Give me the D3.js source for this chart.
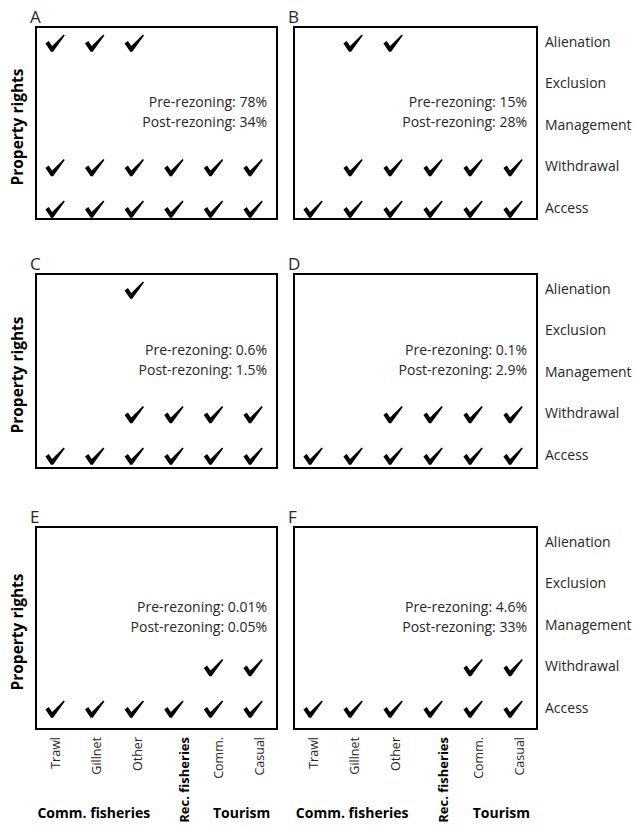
<!DOCTYPE html>
<html>
<head>
<meta charset="utf-8">
<script src="https://cdn.jsdelivr.net/npm/d3@7"></script>
<style>
  html, body { margin: 0; padding: 0; background: #fff; }
  svg { display: block; font-family: "Open Sans", Lato, sans-serif; }
</style>
</head>
<body>
<svg id="chart" width="636" height="826"></svg>
<script>
// Resource users (columns) and the bundle of property rights (rows)
const users = ["Trawl", "Gillnet", "Other", "Rec. fisheries", "Comm.", "Casual"];
const userGroups = ["Comm. fisheries", "Comm. fisheries", "Comm. fisheries", "Rec. fisheries", "Tourism", "Tourism"];
const rights = ["Alienation", "Exclusion", "Management", "Withdrawal", "Access"];

const panelLetters = ["A", "B", "C", "D", "E", "F"];
const preRezoning = ["78%", "15%", "0.6%", "0.1%", "0.01%", "4.6%"];
const postRezoning = ["34%", "28%", "1.5%", "2.9%", "0.05%", "33%"];

// 1 = right held by that user; rows follow the order of `rights`
const rightsA = [
  [1, 1, 1, 0, 0, 0],
  [0, 0, 0, 0, 0, 0],
  [0, 0, 0, 0, 0, 0],
  [1, 1, 1, 1, 1, 1],
  [1, 1, 1, 1, 1, 1]
];
const rightsB = [
  [0, 1, 1, 0, 0, 0],
  [0, 0, 0, 0, 0, 0],
  [0, 0, 0, 0, 0, 0],
  [0, 1, 1, 1, 1, 1],
  [1, 1, 1, 1, 1, 1]
];
const rightsC = [
  [0, 0, 1, 0, 0, 0],
  [0, 0, 0, 0, 0, 0],
  [0, 0, 0, 0, 0, 0],
  [0, 0, 1, 1, 1, 1],
  [1, 1, 1, 1, 1, 1]
];
const rightsD = [
  [0, 0, 0, 0, 0, 0],
  [0, 0, 0, 0, 0, 0],
  [0, 0, 0, 0, 0, 0],
  [0, 0, 1, 1, 1, 1],
  [1, 1, 1, 1, 1, 1]
];
const rightsE = [
  [0, 0, 0, 0, 0, 0],
  [0, 0, 0, 0, 0, 0],
  [0, 0, 0, 0, 0, 0],
  [0, 0, 0, 0, 1, 1],
  [1, 1, 1, 1, 1, 1]
];
const rightsF = [
  [0, 0, 0, 0, 0, 0],
  [0, 0, 0, 0, 0, 0],
  [0, 0, 0, 0, 0, 0],
  [0, 0, 0, 0, 1, 1],
  [1, 1, 1, 1, 1, 1]
];
const panelRights = [rightsA, rightsB, rightsC, rightsD, rightsE, rightsF];

// Layout of the 3 x 2 grid of panels
const colX = [[36, 277], [294, 537]];
const rowY = [[27, 219], [274, 468], [527, 729]];

const svg = d3.select("#chart");
const textColor = "#262626";
const fontFamily = "'Open Sans', Lato, sans-serif";

// A bold tick mark drawn as a filled outline centred on (0,0)
const checkPath = "M-9.6,0.6 L-6.3,-2.0 L-2.9,3.0 L8.7,-8.5 L9.8,-7.5 L-1.9,8.7 L-4.0,8.7 Z";

panelLetters.forEach((letter, i) => {
  const c = i % 2, r = Math.floor(i / 2);
  const [x0, x1] = colX[c];
  const [y0, y1] = rowY[r];

  const x = d3.scalePoint().domain(users).range([x0 + 19, x1 - 24]);
  const y = d3.scalePoint().domain(rights).range([y0 + 15, y0 + 15 + 166]);

  const g = svg.append("g");

  // panel frame
  g.append("rect")
    .attr("x", x0).attr("y", y0)
    .attr("width", x1 - x0).attr("height", y1 - y0)
    .attr("fill", "none").attr("stroke", "#000").attr("stroke-width", 2);

  // panel letter
  g.append("text")
    .attr("x", x0 - 6).attr("y", y0 - 4)
    .attr("font-size", 17).attr("fill", textColor)
    .text(letter);

  // checks
  const cells = [];
  panelRights[i].forEach((row, ri) => row.forEach((v, ci) => {
    if (v) cells.push({ right: rights[ri], user: users[ci] });
  }));
  g.selectAll("path.check").data(cells).join("path")
    .attr("class", "check")
    .attr("d", checkPath)
    .attr("fill", "#000")
    .attr("transform", d => `translate(${x(d.user)},${y(d.right) + 1})`);

  // share of area, before and after rezoning
  const cy = (y0 + y1) / 2;
  g.append("text")
    .attr("x", x1 - 10).attr("y", cy - 22)
    .attr("dominant-baseline", "central")
    .attr("text-anchor", "end")
    .attr("font-size", 14).attr("fill", textColor)
    .text(`Pre-rezoning: ${preRezoning[i]}`);
  g.append("text")
    .attr("x", x1 - 10).attr("y", cy - 2)
    .attr("dominant-baseline", "central")
    .attr("text-anchor", "end")
    .attr("font-size", 14).attr("fill", textColor)
    .text(`Post-rezoning: ${postRezoning[i]}`);

  // y-axis title on the left panels
  if (c === 0) {
    g.append("text")
      .attr("transform", `translate(17,${cy + 4}) rotate(-90)`)
      .attr("dominant-baseline", "central")
      .attr("text-anchor", "middle")
      .attr("font-size", 15.5).attr("font-weight", "bold").attr("fill", "#000")
      .text("Property rights");
  }

  // right labels on the right panels
  if (c === 1) {
    const ax = d3.axisRight(y).tickSize(0).tickPadding(8);
    const axG = g.append("g").attr("transform", `translate(${x1},0)`).call(ax);
    axG.select(".domain").remove();
    axG.selectAll("text")
      .attr("font-family", fontFamily)
      .attr("font-size", 14).attr("fill", textColor)
      .attr("dy", "0.32em");
  }

  // user labels under the bottom panels
  if (r === 2) {
    const xl = d3.scalePoint().domain(users).range([x0 + 19, x1 - 18]);
    const bx = d3.axisBottom(xl).tickSize(0).tickPadding(0);
    const bG = g.append("g").attr("transform", `translate(0,${y1 + 8})`).call(bx);
    bG.select(".domain").remove();
    bG.selectAll(".tick text")
      .attr("font-family", fontFamily)
      .attr("transform", d => d === "Rec. fisheries" ? "translate(6,0) rotate(-90)" : "rotate(-90)")
      .attr("x", 0).attr("y", 0).attr("dy", null)
      .attr("dominant-baseline", "central")
      .attr("text-anchor", "end")
      .attr("font-size", d => d === "Rec. fisheries" ? 13 : 12.5)
      .attr("font-weight", d => d === "Rec. fisheries" ? "bold" : "normal")
      .attr("fill", d => d === "Rec. fisheries" ? "#000" : textColor);

    // group labels
    const groups = ["Comm. fisheries", "Tourism"];
    groups.forEach(gName => {
      const members = users.filter((u, k) => userGroups[k] === gName);
      const mx = d3.mean(members, u => xl(u)) + (gName === "Tourism" ? 3 : -2);
      g.append("text")
        .attr("x", mx).attr("y", 812)
        .attr("dominant-baseline", "central")
        .attr("text-anchor", "middle")
        .attr("font-size", 14).attr("font-weight", "bold").attr("fill", "#000")
        .text(gName);
    });
  }
});
</script>
</body>
</html>
